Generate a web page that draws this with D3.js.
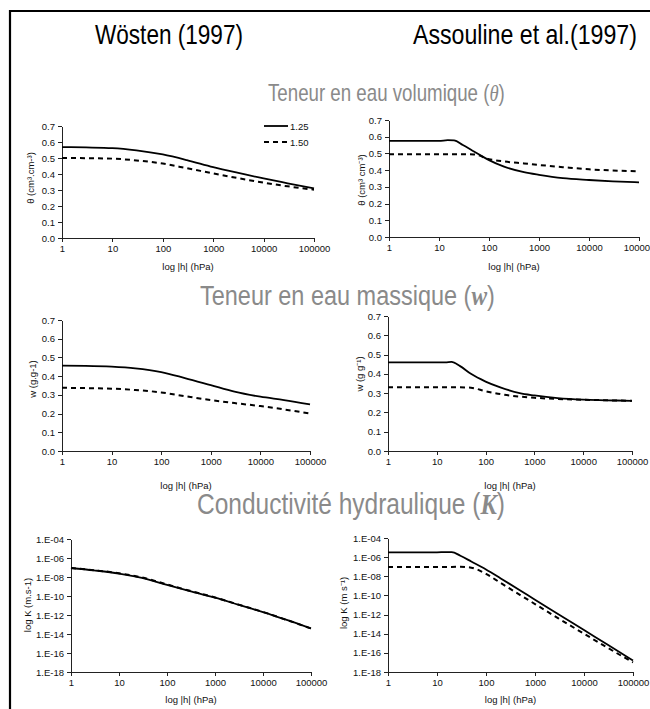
<!DOCTYPE html>
<html>
<head>
<meta charset="utf-8">
<script src="https://cdn.jsdelivr.net/npm/d3@7"></script>
<style>
  body { margin: 0; background: #fff; }
  svg { display: block; }
</style>
</head>
<body>
<svg id="chart" width="650" height="709"></svg>
<script>
// Suction heads (hPa) at which each model curve is tabulated
const hWosten = [1, 3, 10, 30, 100, 300, 1000, 3000, 10000, 30000, 100000];
const hAssouline = [1, 5, 10, 15, 20, 30, 50, 100, 200, 500, 1000, 3000, 10000, 30000, 100000];

// Legend entries (bulk density)
const densities = ["1.25", "1.50"];

// Volumetric water content θ (cm³.cm-³)
const thetaWosten125 = [0.568, 0.566, 0.562, 0.548, 0.522, 0.487, 0.443, 0.408, 0.372, 0.342, 0.310];
const thetaWosten150 = [0.500, 0.499, 0.496, 0.485, 0.465, 0.436, 0.404, 0.375, 0.346, 0.323, 0.302];
const thetaAssouline125 = [0.575, 0.575, 0.575, 0.579, 0.578, 0.550, 0.512, 0.460, 0.421, 0.388, 0.372, 0.352, 0.341, 0.333, 0.327];
const thetaAssouline150 = [0.495, 0.495, 0.495, 0.495, 0.495, 0.495, 0.494, 0.466, 0.452, 0.440, 0.431, 0.418, 0.405, 0.398, 0.393];

// Gravimetric water content w (g.g-1)
const wWosten125 = [0.456, 0.455, 0.451, 0.442, 0.422, 0.390, 0.352, 0.317, 0.290, 0.272, 0.249];
const wWosten150 = [0.338, 0.336, 0.333, 0.326, 0.313, 0.293, 0.272, 0.256, 0.240, 0.222, 0.200];
const wAssouline125 = [0.460, 0.460, 0.460, 0.460, 0.462, 0.440, 0.400, 0.360, 0.330, 0.300, 0.288, 0.274, 0.266, 0.263, 0.260];
const wAssouline150 = [0.330, 0.330, 0.330, 0.330, 0.330, 0.330, 0.328, 0.310, 0.295, 0.282, 0.276, 0.270, 0.266, 0.263, 0.260];

// Hydraulic conductivity K (m.s-1)
const kWosten125 = [8.9e-8, 5.0e-8, 2.3e-8, 7.9e-9, 1.45e-9, 3.2e-10, 6.6e-11, 1.26e-11, 2.0e-12, 3.2e-13, 3.8e-14];
const kWosten150 = [8.9e-8, 5.2e-8, 2.5e-8, 8.9e-9, 1.66e-9, 3.5e-10, 7.1e-11, 1.3e-11, 2.1e-12, 3.2e-13, 3.8e-14];
const kAssouline125 = [3.2e-6, 3.2e-6, 3.2e-6, 3.4e-6, 3.4e-6, 1.4e-6, 3.5e-7, 5.2e-8, 6.0e-9, 3.3e-10, 3.5e-11, 1.1e-12, 2.4e-14, 7.4e-16, 1.6e-17];
const kAssouline150 = [9.3e-8, 9.3e-8, 9.3e-8, 9.3e-8, 9.3e-8, 1.0e-7, 7.9e-8, 1.8e-8, 2.0e-9, 1.1e-10, 1.26e-11, 4.0e-13, 1.0e-14, 3.5e-16, 1.0e-17];

// Axis ticks
const hTicks = [1, 10, 100, 1000, 10000, 100000];
const waterTicks = [0, 0.1, 0.2, 0.3, 0.4, 0.5, 0.6, 0.7];
const kTicks = [1e-18, 1e-16, 1e-14, 1e-12, 1e-10, 1e-8, 1e-6, 1e-4];

const headings = ["Wösten (1997)", "Assouline et al.(1997)"];
const sections = [
  { text: "Teneur en eau volumique (", sym: "θ", bold: false },
  { text: "Teneur en eau massique (", sym: "w", bold: true },
  { text: "Conductivité hydraulique (", sym: "K", bold: true }
];
const xTitle = "log |h| (hPa)";

const svg = d3.select("#chart");
const sans = '"Liberation Sans", Arial, sans-serif';
const serif = '"Liberation Serif", "Times New Roman", serif';

// Squeeze a text horizontally to a given width so it reads like a narrow face
function condense(sel, x, y, width) {
  const natural = sel.node().getBBox().width;
  sel.attr("transform", `translate(${x},${y}) scale(${width / natural},1)`);
}

// Frame (left and top edges)
svg.append("path")
  .attr("d", "M10,709V11H650")
  .attr("fill", "none").attr("stroke", "#000").attr("stroke-width", 2.2);

// Column headings
const headingPos = [{ x: 95, w: 148 }, { x: 413, w: 224 }];
headings.forEach((h, i) => {
  const t = svg.append("text")
    .attr("font-family", sans).attr("font-size", 27).attr("fill", "#000").text(h);
  condense(t, headingPos[i].x, 44, headingPos[i].w);
});

// Section titles
const sectionPos = [
  { x: 268, y: 101, size: 23, w: 237 },
  { x: 200, y: 305, size: 28, w: 295 },
  { x: 197, y: 514, size: 29, w: 308 }
];
sections.forEach((s, i) => {
  const t = svg.append("text")
    .attr("font-family", sans).attr("font-size", sectionPos[i].size).attr("fill", "#8a8a8a");
  t.append("tspan").text(s.text);
  t.append("tspan").attr("font-family", serif).attr("font-style", "italic")
    .attr("font-weight", s.bold ? "bold" : "normal").text(s.sym);
  t.append("tspan").text(")");
  condense(t, sectionPos[i].x, sectionPos[i].y, sectionPos[i].w);
});

const fmtWater = d3.format(".1f");
const fmtK = d => "1.E-" + String(-Math.round(Math.log10(d))).padStart(2, "0");

const panels = [
  { l: 62, r: 314, t: 126, b: 238, kind: "water", ys: [thetaWosten125, thetaWosten150], h: hWosten,
    ylab: "θ (cm³.cm-³)", ylx: 30, yly: 178, xt: 270 },
  { l: 389, r: 639, t: 120, b: 237, kind: "water", ys: [thetaAssouline125, thetaAssouline150], h: hAssouline,
    ylab: "θ (cm³ cm⁻³)", ylx: 361, yly: 180, xt: 270 },
  { l: 62, r: 310, t: 320, b: 451, kind: "water", ys: [wWosten125, wWosten150], h: hWosten,
    ylab: "w (g.g-1)", ylx: 32, yly: 379, xt: 489 },
  { l: 388, r: 632, t: 316, b: 451, kind: "water", ys: [wAssouline125, wAssouline150], h: hAssouline,
    ylab: "w (g g⁻¹)", ylx: 359, yly: 374, xt: 489 },
  { l: 71, r: 311, t: 539, b: 672, kind: "k", ys: [kWosten125, kWosten150], h: hWosten,
    ylab: "log K (m.s-1)", ylx: 27, yly: 605, xt: 703 },
  { l: 388, r: 633, t: 538, b: 672, kind: "k", ys: [kAssouline125, kAssouline150], h: hAssouline,
    ylab: "log K (m s⁻¹)", ylx: 343, yly: 603, xt: 703 }
];

const dashes = [null, "5,4"];

panels.forEach((p, i) => {
  const x = d3.scaleLog().domain([1, 100000]).range([p.l, p.r]);
  const y = p.kind === "water"
    ? d3.scaleLinear().domain([0, 0.7]).range([p.b, p.t])
    : d3.scaleLog().domain([1e-18, 1e-4]).range([p.b, p.t]);

  const g = svg.append("g");

  const xAxis = d3.axisBottom(x).tickValues(hTicks).tickFormat(d3.format("d"))
    .tickSizeInner(4).tickSizeOuter(0).tickPadding(3);
  const yAxis = d3.axisLeft(y).tickValues(p.kind === "water" ? waterTicks : kTicks)
    .tickFormat(p.kind === "water" ? fmtWater : fmtK)
    .tickSizeInner(4).tickSizeOuter(0).tickPadding(3);

  const gx = g.append("g").attr("transform", `translate(0,${p.b})`).call(xAxis);
  const gy = g.append("g").attr("transform", `translate(${p.l},0)`).call(yAxis);
  [gx, gy].forEach(a => {
    a.selectAll("path, line").attr("stroke", "#222").attr("shape-rendering", "crispEdges");
    a.selectAll("text").attr("font-size", 9.5).attr("fill", "#111").attr("font-family", sans);
  });

  // X-axis title
  g.append("text").attr("x", (p.l + p.r) / 2).attr("y", p.xt).attr("text-anchor", "middle")
    .attr("font-family", sans).attr("font-size", 9.5).attr("fill", "#111").text(xTitle);

  // Y-axis title
  g.append("text")
    .attr("transform", `translate(${p.ylx},${p.yly}) rotate(-90)`)
    .attr("text-anchor", "middle").attr("dominant-baseline", "central")
    .attr("font-family", sans).attr("font-size", 9.5).attr("fill", "#111")
    .text(p.ylab);

  const line = d3.line().x(d => x(d[0])).y(d => y(d[1])).curve(d3.curveMonotoneX);
  p.ys.forEach((vals, j) => {
    g.append("path")
      .datum(p.h.map((h, k) => [h, vals[k]]))
      .attr("d", line).attr("fill", "none").attr("stroke", "#000")
      .attr("stroke-width", j === 0 ? 1.8 : 2)
      .attr("stroke-dasharray", dashes[j]);
  });

  // Legend in the first panel
  if (i === 0) {
    densities.forEach((d, j) => {
      const ly = 126 + j * 16;
      g.append("line").attr("x1", 264).attr("x2", 288).attr("y1", ly).attr("y2", ly)
        .attr("stroke", "#000").attr("stroke-width", j === 0 ? 1.8 : 2)
        .attr("stroke-dasharray", dashes[j]);
      g.append("text").attr("x", 290).attr("y", ly).attr("dominant-baseline", "central")
        .attr("font-family", sans).attr("font-size", 9.5).attr("fill", "#111").text(d);
    });
  }
});
</script>
</body>
</html>
